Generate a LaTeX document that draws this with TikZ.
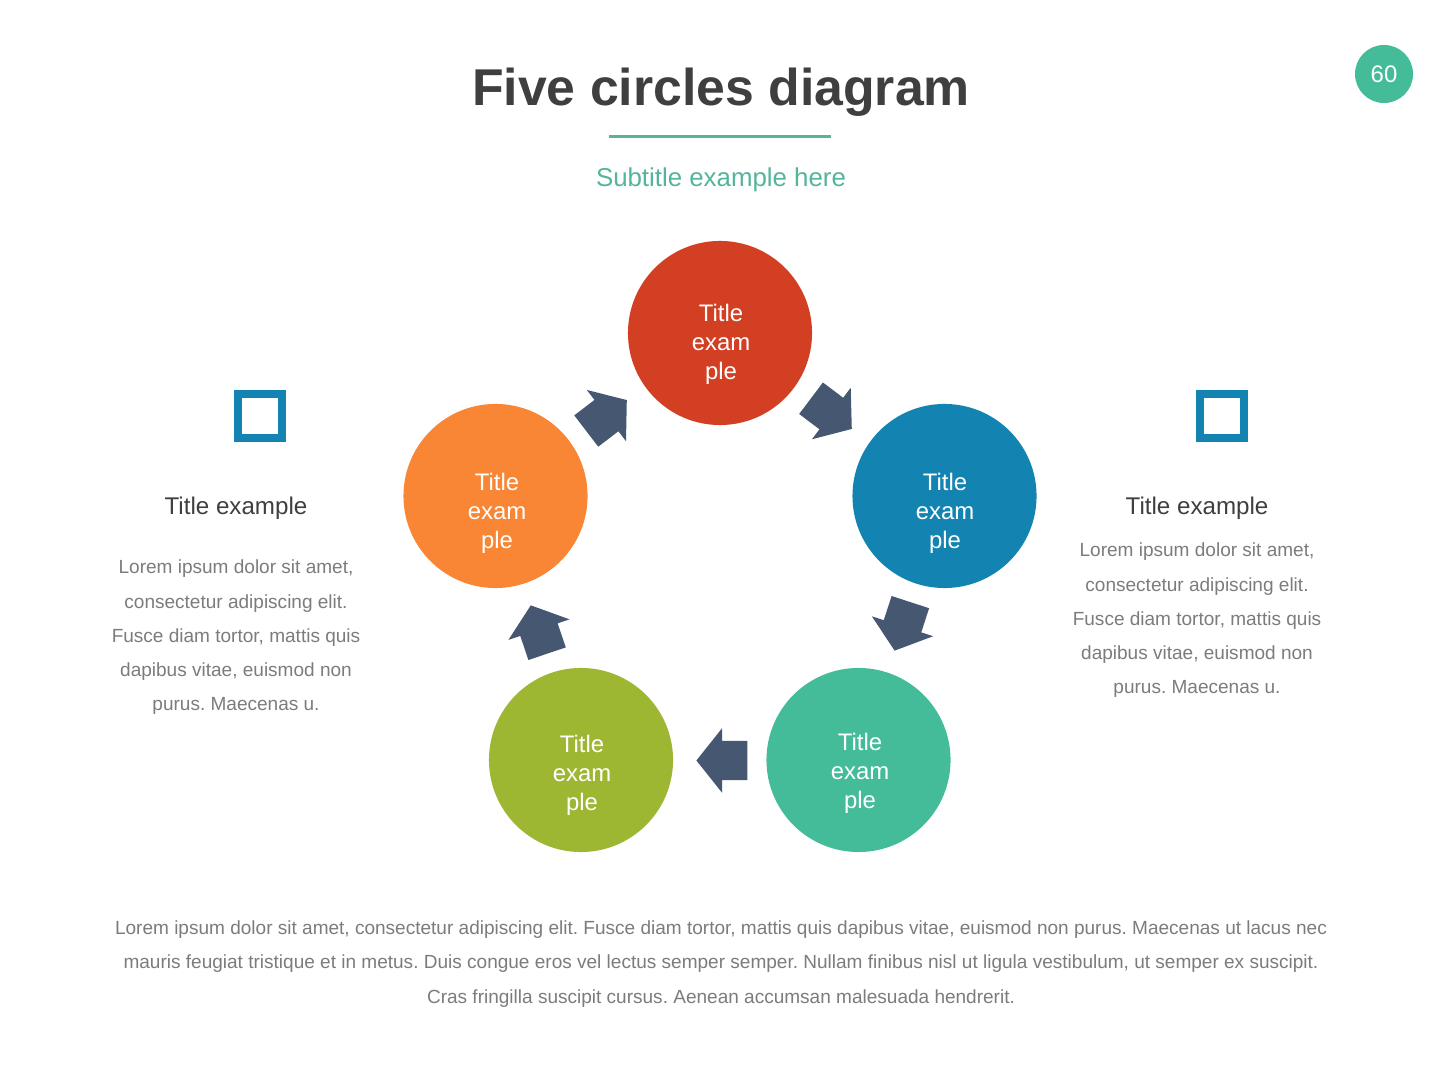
\documentclass[tikz,border=0pt]{standalone}
\usepackage{fontspec}
\setmainfont{Liberation Sans}
\usetikzlibrary{shapes.arrows}
\definecolor{redc}{HTML}{D33F22}
\definecolor{bluec}{HTML}{1384B1}
\definecolor{orangec}{HTML}{F98635}
\definecolor{olivec}{HTML}{9DB733}
\definecolor{tealc}{HTML}{44BC9A}
\definecolor{paletealc}{HTML}{55B49C}
\definecolor{slatec}{HTML}{465771}
\definecolor{darktext}{HTML}{3F3F3F}
\definecolor{bodytext}{HTML}{7C7C7C}
\frenchspacing
\tikzset{
  disc/.style={circle,minimum size=1.84cm,inner sep=0pt},
  disclabel/.style={text=white,align=center,inner sep=0pt,font=\fontsize{6.8}{8.2}\selectfont},
  flow/.style={single arrow,fill=slatec,minimum height=.51cm,minimum width=.63cm,
    single arrow head extend=.125cm,single arrow tip angle=103,inner xsep=0pt,inner ysep=.19cm,anchor=tip},
  openbox/.style={draw=bluec,line width=.08cm,minimum size=.44cm,inner sep=0pt},
  sidehead/.style={text=darktext,inner sep=0pt,font=\fontsize{6.87}{8.2}\selectfont},
  para/.style={text=bodytext,align=center,inner sep=0pt,font=\fontsize{5.41}{9.73}\selectfont}
}
\begin{document}
\begin{tikzpicture}[x=.01cm,y=-.01cm]
  \useasboundingbox[fill=white] (0,0) rectangle (1440,1080);
  % heading
  \node[text=darktext,inner sep=0pt,font=\fontsize{14.72}{17}\selectfont\bfseries] (heading) at (721,92) {Five circles diagram};
  \coordinate (ruleL) at (609,137);
  \coordinate (ruleR) at (831,137);
  \draw[paletealc,line width=.03cm] (ruleL)--(ruleR);
  \node[text=paletealc,inner sep=0pt,font=\fontsize{7.35}{9}\selectfont] (subtitle) at (721,180) {Subtitle example here};
  \node[circle,fill=tealc,minimum size=.58cm,inner sep=0pt,text=white,font=\fontsize{6.8}{8}\selectfont] (pagenum) at (1384,74) {60};
  % five circles
  \node[disc,fill=redc] (top) at (720,333) {};
  \node[disc,fill=bluec] (right) at (944.5,496) {};
  \node[disc,fill=tealc] (lowright) at (858.5,760) {};
  \node[disc,fill=olivec] (lowleft) at (581,760) {};
  \node[disc,fill=orangec] (left) at (495.5,496) {};
  \node[disclabel] (toplabel) at (721,344.5) {Title\\exam\\ple};
  \node[disclabel] (rightlabel) at (945,513) {Title\\exam\\ple};
  \node[disclabel] (lowrightlabel) at (860,773) {Title\\exam\\ple};
  \node[disclabel] (lowleftlabel) at (582,775) {Title\\exam\\ple};
  \node[disclabel] (leftlabel) at (497,513) {Title\\exam\\ple};
  % block arrows, placed by their tips
  \node[flow,rotate=-37] (toparrow) at (852.5,429.5) {};
  \node[flow,rotate=252] (rightarrow) at (894.3,651.5) {};
  \node[flow,rotate=180] (lowarrow) at (695.5,760.5) {};
  \node[flow,rotate=108.6] (leftarrow) at (530.5,604.5) {};
  \node[flow,rotate=37.4] (backarrow) at (627.5,399.5) {};
  % side texts
  \node[openbox] (leftbox) at (260,416) {};
  \node[openbox] (rightbox) at (1222,416) {};
  \node[sidehead] (lefthead) at (236,508) {Title example};
  \node[sidehead] (righthead) at (1197,508) {Title example};
  \node[para] (leftpara) at (236,637.5) {Lorem ipsum dolor sit amet,\\consectetur adipiscing elit.\\Fusce diam tortor, mattis quis\\dapibus vitae, euismod non\\purus. Maecenas u.};
  \node[para] (rightpara) at (1197,620.5) {Lorem ipsum dolor sit amet,\\consectetur adipiscing elit.\\Fusce diam tortor, mattis quis\\dapibus vitae, euismod non\\purus. Maecenas u.};
  \node[para] (footer) at (721,964) {Lorem ipsum dolor sit amet, consectetur adipiscing elit. Fusce diam tortor, mattis quis dapibus vitae, euismod non purus. Maecenas ut lacus nec\\mauris feugiat tristique et in metus. Duis congue eros vel lectus semper semper. Nullam finibus nisl ut ligula vestibulum, ut semper ex suscipit.\\Cras fringilla suscipit cursus. Aenean accumsan malesuada hendrerit.};
\end{tikzpicture}
\end{document}
